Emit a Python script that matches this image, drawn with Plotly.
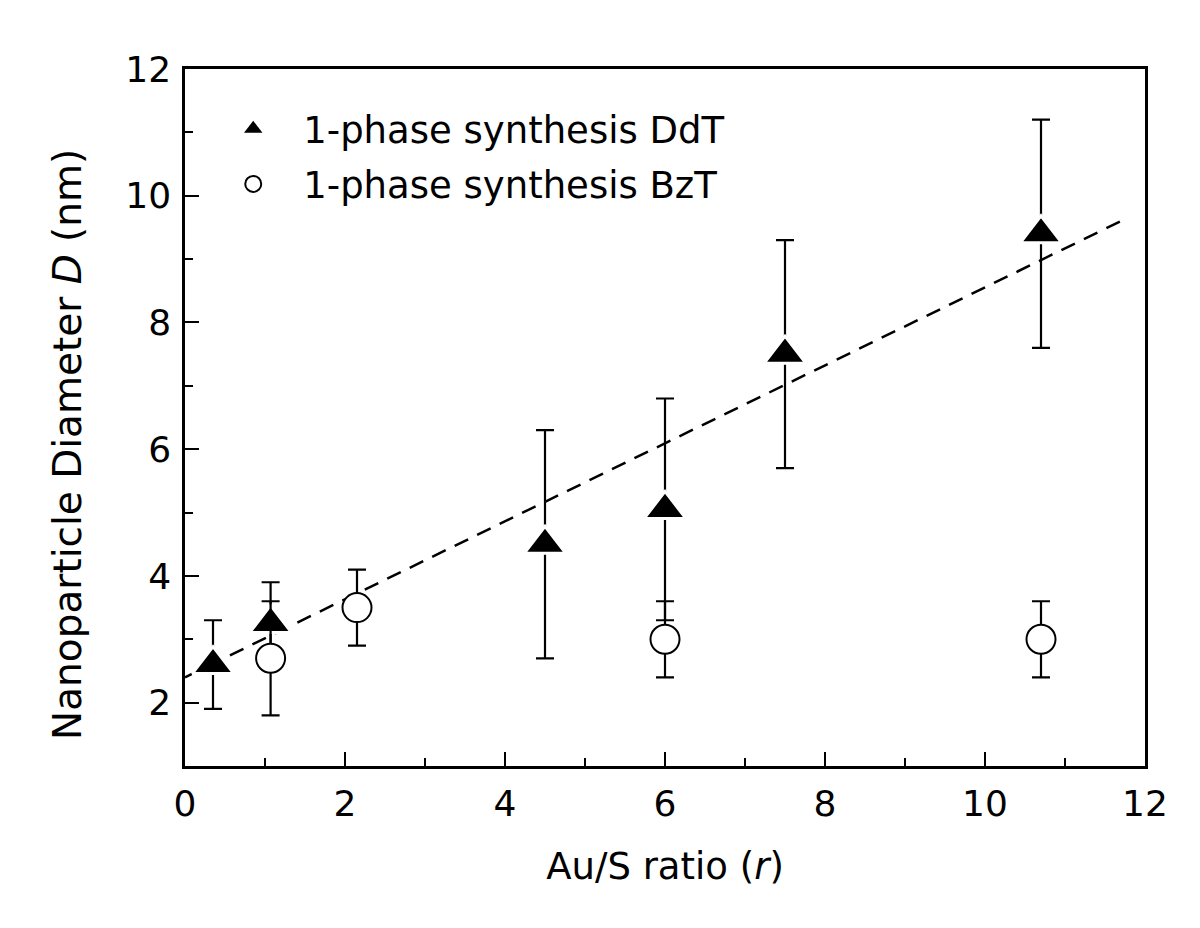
import plotly.graph_objects as go

# DdT (1-phase synthesis, dodecanethiol)
ddt_x = [0.35, 1.07, 4.5, 6.0, 7.5, 10.7]
ddt_y = [2.6, 3.25, 4.5, 5.05, 7.5, 9.4]
ddt_err = [0.7, 0.65, 1.8, 1.75, 1.8, 1.8]

# BzT (1-phase synthesis, benzylthiol)
bzt_x = [1.07, 2.15, 6.0, 10.7]
bzt_y = [2.7, 3.5, 3.0, 3.0]
bzt_err = [0.9, 0.6, 0.6, 0.6]

# linear guide line (endpoints)
fit_x = [0.0, 11.7]
fit_y = [2.4, 9.6]

x_ticks = [0, 2, 4, 6, 8, 10, 12]
y_ticks = [2, 4, 6, 8, 10, 12]

names = ["1-phase synthesis DdT", "1-phase synthesis BzT"]

FONT = "DejaVu Sans"

fig = go.Figure()

fig.add_trace(go.Scatter(
    x=fit_x, y=fit_y, mode="lines",
    line=dict(color="black", width=2.5, dash="15px,10px"),
    showlegend=False, hoverinfo="skip"))

fig.add_trace(go.Scatter(
    x=ddt_x, y=ddt_y, mode="markers", name=names[0], showlegend=False,
    marker=dict(symbol="triangle-up", size=36, color="black",
                line=dict(color="white", width=3)),
    error_y=dict(type="data", array=ddt_err, symmetric=True,
                 color="black", thickness=2.2, width=9)))

fig.add_trace(go.Scatter(
    x=bzt_x, y=bzt_y, mode="markers", name=names[1], showlegend=False,
    marker=dict(symbol="circle", size=29, color="white",
                line=dict(color="black", width=2)),
    error_y=dict(type="data", array=bzt_err, symmetric=True,
                 color="black", thickness=2.2, width=9)))

# legend entries
fig.add_trace(go.Scatter(
    x=[None], y=[None], mode="markers", name=names[0],
    marker=dict(symbol="triangle-up", size=24, color="black"),
    legendgroup="a"))
fig.add_trace(go.Scatter(
    x=[None], y=[None], mode="markers", name=names[1],
    marker=dict(symbol="circle", size=22, color="white",
                line=dict(color="black", width=2)),
    legendgroup="b"))

axis_common = dict(
    showgrid=False, zeroline=False,
    showline=True, linecolor="black", linewidth=2.5, mirror=True,
    ticks="inside", ticklen=14, tickwidth=2, tickcolor="black",
    tickfont=dict(family=FONT, size=36, color="black"),
    minor=dict(ticks="inside", ticklen=8, tickwidth=2, tickcolor="black", dtick=1),
)

fig.update_layout(
    width=1200, height=928,
    margin=dict(l=177, r=63, t=61, b=170),
    paper_bgcolor="white", plot_bgcolor="white",
    font=dict(family=FONT, color="black"),
    xaxis=dict(range=[0, 12], tickvals=x_ticks, ticklabelstandoff=4,
               title=dict(text="Au/S ratio (<i>r</i>)", font=dict(family=FONT, size=37), standoff=31),
               **axis_common),
    yaxis=dict(range=[1, 12], tickvals=y_ticks, ticklabelstandoff=4,
               **axis_common),
    legend=dict(x=0.019, y=0.958, xanchor="left", yanchor="top",
                bgcolor="rgba(0,0,0,0)", borderwidth=0,
                font=dict(family=FONT, size=37, color="black"),
                itemwidth=90, tracegroupgap=4),
    annotations=[dict(
        text="Nanoparticle Diameter <i>D</i> (nm)", textangle=-90,
        xref="paper", yref="paper", x=-0.1219, y=0.462,
        xanchor="center", yanchor="middle", showarrow=False,
        font=dict(family=FONT, size=39, color="black"))],
)

fig.write_html("out.html")
